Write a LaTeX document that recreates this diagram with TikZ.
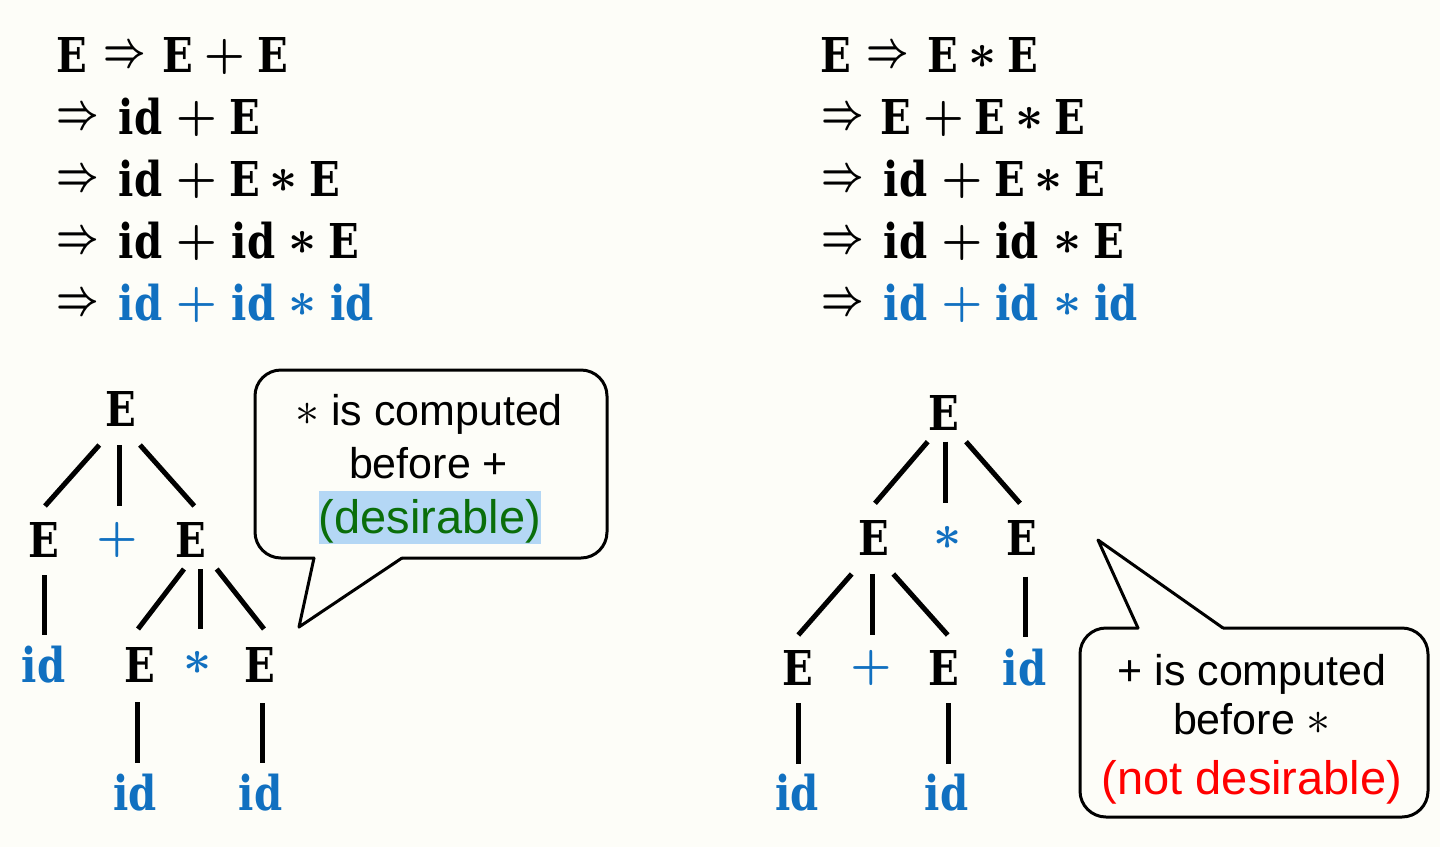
\documentclass[tikz,border=0pt]{standalone}
\usepackage{fontspec}
\usepackage{graphicx}
\setmainfont{Liberation Sans}
\newfontfamily\camb[FakeStretch=0.84]{DejaVu Serif}
\definecolor{bgc}{RGB}{253,253,248}
\definecolor{idblue}{RGB}{17,112,192}
\definecolor{okgreen}{RGB}{10,110,10}
\definecolor{hlblue}{RGB}{180,215,245}
\definecolor{badred}{RGB}{255,0,0}
\newcommand\Imp{{\fontsize{10}{12}\selectfont\scalebox{3.7}[5.0]{\boldmath$\Rightarrow$}}}
\newcommand\Pls{{\fontsize{10}{12}\selectfont\scalebox{4.6}{\boldmath$+$}}}
\newcommand\Ast{{\fontsize{10}{12}\selectfont\scalebox{4.9}{\boldmath$\ast$}}}
\newcommand\Cast{{\fontsize{10}{12}\selectfont\scalebox{4.8}{$\ast$}}}
\tikzset{
  lett/.style={anchor=base, inner sep=0pt, font=\camb\bfseries\fontsize{48}{48}\selectfont},
  symb/.style={anchor=center, inner sep=0pt},
  idb/.style={text=idblue},
  branch/.style={line width=5pt},
  callout/.style={line width=3pt, line join=round, line cap=round},
  note/.style={anchor=base, inner sep=0pt, font=\fontsize{43}{43}\selectfont},
  notebig/.style={anchor=base, inner sep=0pt, font=\fontsize{47}{47}\selectfont},
}
\begin{document}
\begin{tikzpicture}[x=1pt,y=-1pt]
\fill[bgc] (0,0) rectangle (1440,847);
\useasboundingbox (0,0) rectangle (1440,847);

% ---------- left derivation ----------
\node[lett] (l1a) at (71.5,72) {E};
\node[symb] (l1b) at (125,57) {\Imp};
\node[lett] (l1c) at (177.5,72) {E};
\node[symb] (l1d) at (224.5,57) {\Pls};
\node[lett] (l1e) at (272.5,72) {E};

\node[symb] (l2a) at (78,119) {\Imp};
\node[lett] (l2b) at (140.5,134) {id};
\node[symb] (l2c) at (196.5,119) {\Pls};
\node[lett] (l2d) at (244.5,134) {E};

\node[symb] (l3a) at (78,181) {\Imp};
\node[lett] (l3b) at (140.5,196) {id};
\node[symb] (l3c) at (196.5,181) {\Pls};
\node[lett] (l3d) at (244.5,196) {E};
\node[symb] (l3e) at (283.5,181) {\Ast};
\node[lett] (l3f) at (324.5,196) {E};

\node[symb] (l4a) at (78,243) {\Imp};
\node[lett] (l4b) at (140.5,258) {id};
\node[symb] (l4c) at (196.5,243) {\Pls};
\node[lett] (l4d) at (253.5,258) {id};
\node[symb] (l4e) at (303,243) {\Ast};
\node[lett] (l4f) at (343.5,258) {E};

\node[symb] (l5a) at (78,305) {\Imp};
\node[lett,idb] (l5b) at (140.5,320) {id};
\node[symb,idb] (l5c) at (196.5,305) {\Pls};
\node[lett,idb] (l5d) at (253.5,320) {id};
\node[symb,idb] (l5e) at (303,305) {\Ast};
\node[lett,idb] (l5f) at (352,320) {id};

% ---------- right derivation ----------
\node[lett] (r1a) at (836,72) {E};
\node[symb] (r1b) at (888,57) {\Imp};
\node[lett] (r1c) at (942.5,72) {E};
\node[symb] (r1d) at (983,57) {\Ast};
\node[lett] (r1e) at (1022.5,72) {E};

\node[symb] (r2a) at (843,119) {\Imp};
\node[lett] (r2b) at (896,134) {E};
\node[symb] (r2c) at (943.5,119) {\Pls};
\node[lett] (r2d) at (990,134) {E};
\node[symb] (r2e) at (1030,119) {\Ast};
\node[lett] (r2f) at (1070,134) {E};

\node[symb] (r3a) at (843,181) {\Imp};
\node[lett] (r3b) at (905.5,196) {id};
\node[symb] (r3c) at (962,181) {\Pls};
\node[lett] (r3d) at (1009.5,196) {E};
\node[symb] (r3e) at (1049,181) {\Ast};
\node[lett] (r3f) at (1089.5,196) {E};

\node[symb] (r4a) at (843,243) {\Imp};
\node[lett] (r4b) at (905.5,258) {id};
\node[symb] (r4c) at (962,243) {\Pls};
\node[lett] (r4d) at (1017,258) {id};
\node[symb] (r4e) at (1068,243) {\Ast};
\node[lett] (r4f) at (1108.5,258) {E};

\node[symb] (r5a) at (843,305) {\Imp};
\node[lett,idb] (r5b) at (905.5,320) {id};
\node[symb,idb] (r5c) at (962,305) {\Pls};
\node[lett,idb] (r5d) at (1017,320) {id};
\node[symb,idb] (r5e) at (1068,305) {\Ast};
\node[lett,idb] (r5f) at (1116,320) {id};

% ---------- left tree ----------
\node[lett] (lr) at (120.5,426) {E};
\node[lett] (la) at (44,557) {E};
\node[symb,idb] (lp) at (117,540) {\Pls};
\node[lett] (lb) at (190.5,557) {E};
\node[lett,idb] (lc) at (43.5,682) {id};
\node[lett] (ld) at (140,682) {E};
\node[symb,idb] (ls) at (198,663) {\Ast};
\node[lett] (le) at (259.5,682) {E};
\node[lett,idb] (lf) at (135,810) {id};
\node[lett,idb] (lg) at (260.7,810) {id};

\draw[branch] ([shift={(-21.2,19)}]lr.base) -- ([shift={(1,-51)}]la.base);
\draw[branch] ([shift={(-1.5,19)}]lr.base) -- ([shift={(2,-34)}]lp.center);
\draw[branch] ([shift={(19.5,19)}]lr.base) -- ([shift={(3.8,-51)}]lb.base);
\draw[branch] ([shift={(0,18)}]la.base) -- ([shift={(0.5,-47)}]lc.base);
\draw[branch] ([shift={(-6.5,12)}]lb.base) -- ([shift={(-2,-53)}]ld.base);
\draw[branch] ([shift={(9.5,12)}]lb.base) -- ([shift={(2,-34)}]ls.center);
\draw[branch] ([shift={(26.2,12)}]lb.base) -- ([shift={(4.5,-53)}]le.base);
\draw[branch] ([shift={(-3,20)}]ld.base) -- ([shift={(2,-47)}]lf.base);
\draw[branch] ([shift={(2.5,21)}]le.base) -- ([shift={(1.3,-47)}]lg.base);

% ---------- right tree ----------
\node[lett] (rr) at (943.5,430) {E};
\node[lett] (ra) at (873.7,555) {E};
\node[symb,idb] (rs) at (947.5,538) {\Ast};
\node[lett] (rb) at (1022,555) {E};
\node[lett] (rc) at (797.5,685) {E};
\node[symb,idb] (rp) at (871,668) {\Pls};
\node[lett] (rd) at (944,685) {E};
\node[lett,idb] (re) at (1024.5,685) {id};
\node[lett,idb] (rf) at (797.3,810) {id};
\node[lett,idb] (rg) at (946.7,810) {id};

\draw[branch] ([shift={(-15.8,11.7)}]rr.base) -- ([shift={(1.3,-51.7)}]ra.base);
\draw[branch] ([shift={(2.2,11.7)}]rr.base) -- ([shift={(-1.8,-34.7)}]rs.center);
\draw[branch] ([shift={(22.5,11.7)}]rr.base) -- ([shift={(-2,-51.7)}]rb.base);
\draw[branch] ([shift={(-22,19)}]ra.base) -- ([shift={(0.8,-50)}]rc.base);
\draw[branch] ([shift={(-1,19)}]ra.base) -- ([shift={(1.7,-33)}]rp.center);
\draw[branch] ([shift={(19.6,19)}]ra.base) -- ([shift={(3.7,-50)}]rd.base);
\draw[branch] ([shift={(3,21.7)}]rb.base) -- ([shift={(0.5,-48.3)}]re.base);
\draw[branch] ([shift={(0.8,18.3)}]rc.base) -- ([shift={(1,-46)}]rf.base);
\draw[branch] ([shift={(4.3,18)}]rd.base) -- ([shift={(1.6,-46)}]rg.base);

% ---------- left callout ----------
\draw[callout, rounded corners=26pt] (314,558) -- (255,558) -- (255,370) -- (607,370) -- (607,558) -- (402,558);
\draw[callout] (402,558) -- (299,627) -- (314,558);
\node[note] (c1a) at (429,425) {\Cast{} is computed};
\node[note] (c1b) at (428.5,478) {before +};
\node[notebig, fill=hlblue, text=okgreen, text height=42pt, text depth=10.5pt] (c1c) at (430,533) {(desirable)};

% ---------- right callout ----------
\draw[callout, rounded corners=26pt] (1138,628) -- (1080,628) -- (1080,817) -- (1428,817) -- (1428,628) -- (1223,628);
\draw[callout] (1223,628) -- (1098,540) -- (1138,628);
\node[note] (c2a) at (1252,685) {+ is computed};
\node[note] (c2b) at (1252,734) {before \Cast};
\node[notebig, text=badred] (c2c) at (1252,794) {(not desirable)};
\end{tikzpicture}
\end{document}
